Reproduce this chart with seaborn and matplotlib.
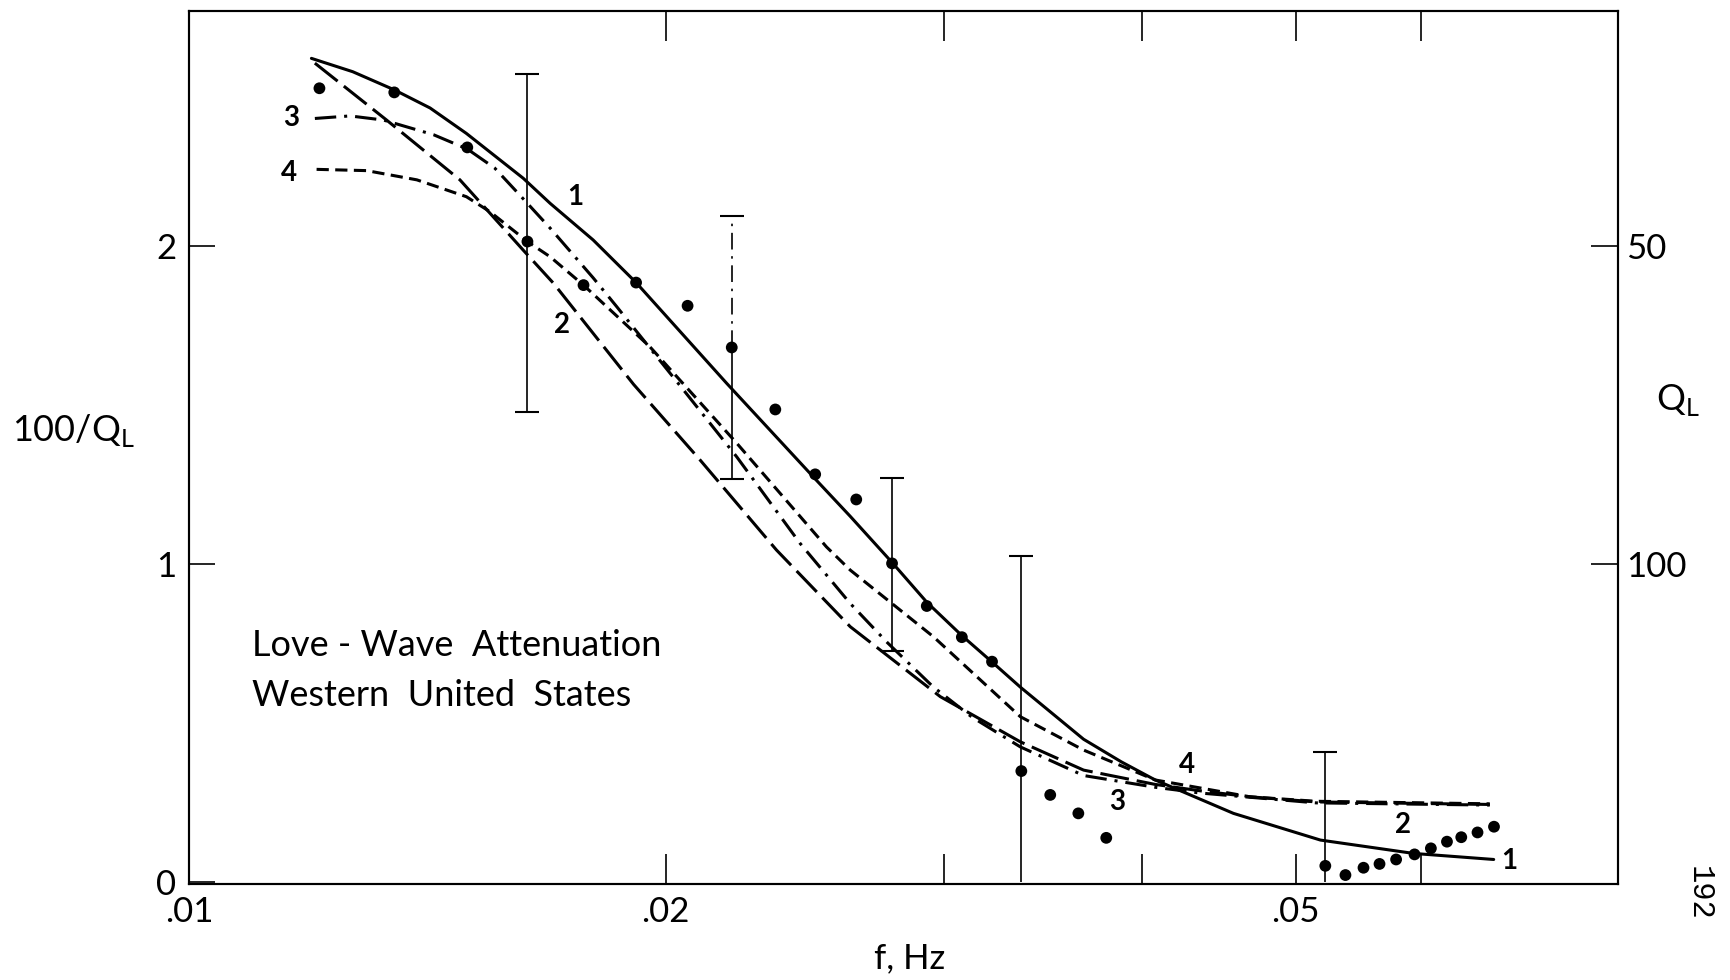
import matplotlib
matplotlib.use("Agg")
import matplotlib.pyplot as plt
import seaborn as sns

# ---------------- data ----------------
# observed 100/Q_L values
obs_f = [0.01209, 0.01348, 0.01499, 0.01636, 0.01775, 0.01916, 0.02065, 0.02202,
         0.02346, 0.02486, 0.02639, 0.02780, 0.02924, 0.03077, 0.03215, 0.03355,
         0.03499, 0.03645, 0.03796, 0.05220, 0.05375, 0.05518, 0.05648, 0.05786,
         0.05943, 0.06086, 0.06230, 0.06361, 0.06513, 0.06671]
obs_v = [2.496, 2.483, 2.310, 2.014, 1.877, 1.885, 1.812, 1.681,
         1.486, 1.282, 1.203, 1.002, 0.868, 0.770, 0.693, 0.349,
         0.274, 0.216, 0.139, 0.051, 0.022, 0.045, 0.057, 0.071,
         0.087, 0.106, 0.127, 0.141, 0.156, 0.174]

# error bars
eb_f = [0.01636, 0.02202, 0.02780, 0.03355, 0.05220]
eb_mid = [2.014, 1.681, 1.002, 0.349, 0.051]
eb_lo = [1.477, 1.267, 0.726, 0.0, 0.0]
eb_hi = [2.541, 2.094, 1.269, 1.025, 0.410]
eb_upper_style = ["solid", (0, (10, 4, 1.5, 4)), "solid", "solid", "solid"]

# model curves
c1_f = [0.01195, 0.01269, 0.01348, 0.01420, 0.01497, 0.01626, 0.01691, 0.01800,
        0.01916, 0.02186, 0.02492, 0.02616, 0.02780, 0.02924, 0.03077, 0.03215,
        0.03350, 0.03673, 0.03880, 0.04076, 0.04567, 0.05183, 0.05935, 0.06668]
c1_v = [2.590, 2.548, 2.491, 2.434, 2.354, 2.213, 2.134, 2.019,
        1.885, 1.568, 1.262, 1.150, 1.005, 0.880, 0.775, 0.692,
        0.613, 0.449, 0.378, 0.321, 0.216, 0.132, 0.090, 0.071]

c2_f = [0.01201, 0.01333, 0.01483, 0.01626, 0.01699, 0.01909, 0.02103, 0.02350,
        0.02616, 0.02982, 0.03350, 0.03673, 0.04076, 0.04350, 0.04679, 0.05149,
        0.06630]
c2_v = [2.575, 2.396, 2.208, 1.987, 1.883, 1.565, 1.327, 1.044,
        0.803, 0.583, 0.441, 0.352, 0.307, 0.287, 0.268, 0.252,
        0.244]

c3_f = [0.01201, 0.01264, 0.01327, 0.01427, 0.01499, 0.01560, 0.01618, 0.01691,
        0.01800, 0.01863, 0.02053, 0.02218, 0.02432, 0.02616, 0.02761, 0.02951,
        0.03122, 0.03350, 0.03673, 0.04076, 0.04350, 0.05149, 0.06630]
c3_v = [2.401, 2.409, 2.396, 2.350, 2.305, 2.245, 2.160, 2.056,
        1.900, 1.809, 1.547, 1.337, 1.065, 0.876, 0.753, 0.614,
        0.519, 0.425, 0.335, 0.298, 0.280, 0.249, 0.242]

c4_f = [0.01204, 0.01295, 0.01393, 0.01497, 0.01549, 0.01636, 0.01691, 0.01775,
        0.01955, 0.02218, 0.02527, 0.02616, 0.02953, 0.03350, 0.03673, 0.04076,
        0.04679, 0.05149, 0.06630]
c4_v = [2.241, 2.237, 2.208, 2.155, 2.108, 2.014, 1.966, 1.877,
        1.683, 1.380, 1.054, 0.981, 0.771, 0.520, 0.415, 0.321,
        0.268, 0.254, 0.246]

# curve number labels
lab_text = ["3", "4", "1", "2", "4", "3", "2", "1"]
lab_f = [0.01160, 0.01157, 0.01753, 0.01720, 0.04270, 0.03858, 0.05846, 0.06822]
lab_v = [2.403, 2.230, 2.154, 1.752, 0.368, 0.253, 0.179, 0.066]

# axes ticks
x_ticks = [0.01, 0.02, 0.03, 0.04, 0.05, 0.06]
x_ticklabels = [".01", ".02", "", "", ".05", ""]
y_ticks = [0, 1, 2]
q_ticks = [50, 100]

# ---------------- figure ----------------
sns.set_theme(style="ticks")
FONT = ["Lato", "DejaVu Sans"]
plt.rcParams["font.family"] = FONT
plt.rcParams["mathtext.fontset"] = "custom"
plt.rcParams["mathtext.rm"] = "Lato"

fig = plt.figure(figsize=(17.3, 9.8), dpi=100)
ax = fig.add_axes([0.1092, 0.0980, 0.8261, 0.8908])
ax.set_xscale("log")

lw = 2.2
sns.lineplot(x=c1_f, y=c1_v, ax=ax, color="black", lw=lw, sort=False,
             estimator=None, linestyle="solid")
sns.lineplot(x=c2_f, y=c2_v, ax=ax, color="black", lw=lw, sort=False,
             estimator=None, linestyle=(0, (9.5, 2.6)))
sns.lineplot(x=c3_f, y=c3_v, ax=ax, color="black", lw=lw, sort=False,
             estimator=None, linestyle=(0, (7, 2.6, 1.0, 2.6)))
sns.lineplot(x=c4_f, y=c4_v, ax=ax, color="black", lw=lw, sort=False,
             estimator=None, linestyle=(0, (4.0, 2.1)))

# error bars
ax.vlines(eb_f, eb_lo, eb_mid, colors="black", lw=1.2)
ax.vlines(eb_f, eb_mid, eb_hi, colors="black", lw=1.2, linestyles=eb_upper_style)
ax.plot(eb_f, eb_hi, ls="none", marker="_", ms=17, mew=1.5, color="black")
lo_f = [f for f, lo in zip(eb_f, eb_lo) if lo > 0]
lo_v = [lo for lo in eb_lo if lo > 0]
ax.plot(lo_f, lo_v, ls="none", marker="_", ms=17, mew=1.5, color="black")

# observations
sns.scatterplot(x=obs_f, y=obs_v, ax=ax, color="black", s=72, edgecolor="none",
                zorder=5)

for t, f, v in zip(lab_text, lab_f, lab_v):
    ax.text(f, v, t, ha="center", va="center", fontsize=20, fontweight="bold",
            color="black")

ax.text(0.01096, 0.744, "Love - Wave  Attenuation", ha="left", va="center",
        fontsize=26, color="black")
ax.text(0.01096, 0.588, "Western  United  States", ha="left", va="center",
        fontsize=26, color="black")

ax.set_xlim(0.01, 0.0799)
ax.set_ylim(-0.006, 2.739)

ax.xaxis.set_minor_locator(matplotlib.ticker.NullLocator())
ax.set_xticks(x_ticks)
ax.set_xticklabels(x_ticklabels)
ax.set_yticks(y_ticks)
ax.set_yticklabels([str(v) for v in y_ticks])
ax.tick_params(axis="x", which="major", direction="in", length=21.5, width=1.2,
               top=True, bottom=True, labelsize=25, pad=9, colors="black")
ax.tick_params(axis="y", which="major", direction="in", length=18.5, width=1.2,
               left=True, right=False, labelsize=25, pad=9, colors="black")

for s in ax.spines.values():
    s.set_linewidth(1.5)
    s.set_color("black")
    s.set_visible(True)

ax.set_xlabel("f, Hz", fontsize=25, color="black")
ax.xaxis.set_label_coords(0.5045, -0.0848)
ax.xaxis.label.set_va("center")

ax.set_ylabel(r"100/Q$_\mathregular{L}$", fontsize=26, rotation=0, color="black")
ax.yaxis.set_label_coords(-0.0805, 0.520)
ax.yaxis.label.set_va("center")
ax.yaxis.label.set_ha("center")

ax2 = ax.twinx()
ax2.set_ylim(ax.get_ylim())
ax2.set_yticks([100.0 / q for q in q_ticks])
ax2.set_yticklabels([str(q) for q in q_ticks])
ax2.tick_params(axis="y", direction="in", length=19.5, width=1.2, labelsize=25,
                pad=6, colors="black")
ax2.yaxis.set_minor_locator(matplotlib.ticker.NullLocator())
for s in ax2.spines.values():
    s.set_linewidth(1.5)
    s.set_color("black")
ax2.set_ylabel(r"Q$_\mathregular{L}$", fontsize=26, rotation=0, color="black")
ax2.yaxis.set_label_coords(1.042, 0.554)
ax2.yaxis.label.set_va("center")
ax2.yaxis.label.set_ha("center")
ax2.grid(False)
ax.grid(False)

fig.text(1699 / 1730, 1 - 893 / 980, "192", rotation=-90, ha="center",
         va="center", fontsize=22, family=["Liberation Mono", "DejaVu Sans Mono"],
         color="black")

fig.savefig("out.png", dpi=100, facecolor="white")
